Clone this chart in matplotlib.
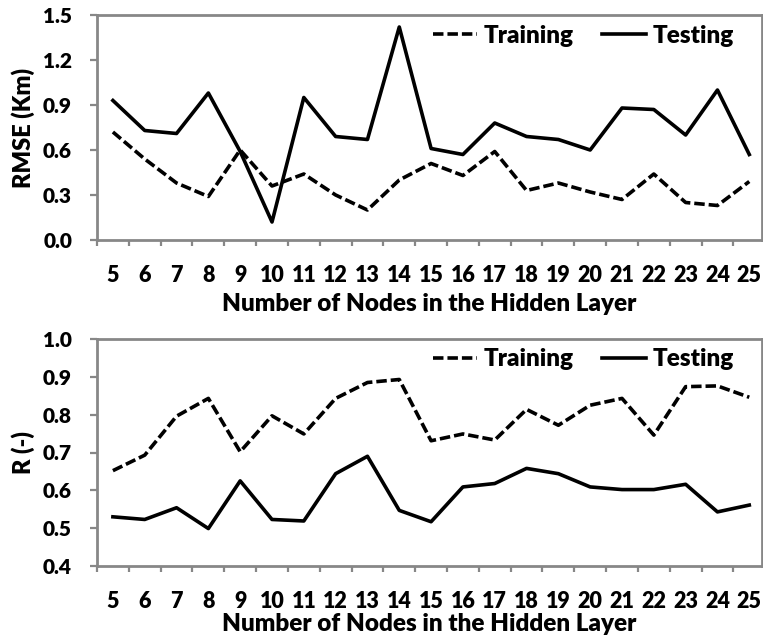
import matplotlib.pyplot as plt
from matplotlib.ticker import FixedLocator

# number of nodes in the hidden layer
nodes = [5, 6, 7, 8, 9, 10, 11, 12, 13, 14, 15, 16, 17, 18, 19, 20, 21, 22, 23, 24, 25]

# RMSE (Km)
rmse_train = [0.72, 0.54, 0.38, 0.29, 0.60, 0.36, 0.44, 0.30, 0.20, 0.40, 0.51,
              0.43, 0.59, 0.33, 0.38, 0.32, 0.27, 0.44, 0.25, 0.23, 0.39]
rmse_test = [0.93, 0.73, 0.71, 0.98, 0.59, 0.12, 0.95, 0.69, 0.67, 1.42, 0.61,
             0.57, 0.78, 0.69, 0.67, 0.60, 0.88, 0.87, 0.70, 1.00, 0.57]

# R (-)
r_train = [0.652, 0.693, 0.796, 0.843, 0.702, 0.797, 0.749, 0.843, 0.885, 0.893, 0.731,
           0.749, 0.733, 0.814, 0.772, 0.825, 0.843, 0.746, 0.874, 0.876, 0.846]
r_test = [0.530, 0.523, 0.554, 0.499, 0.625, 0.523, 0.519, 0.644, 0.690, 0.547, 0.517,
          0.609, 0.618, 0.658, 0.644, 0.609, 0.602, 0.602, 0.616, 0.543, 0.561]

rmse_ticks = [0.0, 0.3, 0.6, 0.9, 1.2, 1.5]
r_ticks = [0.4, 0.5, 0.6, 0.7, 0.8, 0.9, 1.0]

FONT = 'Lato'
WEIGHT = 'heavy'
GREY = '#878787'

plt.rcParams['font.family'] = FONT
plt.rcParams['font.weight'] = WEIGHT

fig = plt.figure(figsize=(7.63, 6.39), dpi=100)
ax1 = fig.add_axes([97 / 763, 1 - 240 / 639, 665 / 763, 225 / 639])
ax2 = fig.add_axes([97 / 763, 1 - 566 / 639, 665 / 763, 227 / 639])


def style_panel(ax, train, test, ticks, ylabel, fmt, xpad):
    x = list(range(len(nodes)))
    ax.plot(x, train, color='black', lw=2.6, linestyle=(0, (2.9, 1.1)),
            dash_capstyle='butt', label='Training')
    ax.plot(x, test, color='black', lw=2.6, label='Testing')

    ax.set_xlim(-0.5, len(nodes) - 0.6)
    ax.set_ylim(ticks[0], ticks[-1])
    ax.set_yticks(ticks)
    ax.set_yticklabels([fmt.format(t) for t in ticks], fontsize=15,
                       fontweight=WEIGHT)
    ax.set_xticks(x)
    ax.set_xticklabels([str(n) for n in nodes], fontsize=15.5, fontweight=WEIGHT)
    ax.xaxis.set_minor_locator(FixedLocator([i - 0.5 for i in range(len(nodes) + 1)]))

    ax.tick_params(axis='x', which='major', length=0, pad=18)
    ax.tick_params(axis='x', which='minor', length=4, width=1.6, color=GREY,
                   direction='out')
    ax.tick_params(axis='y', length=5, width=1.6, color=GREY, direction='out',
                   pad=13)
    for s in ax.spines.values():
        s.set_color(GREY)
        s.set_linewidth(2.0)

    ax.set_xlabel('Number of Nodes in the Hidden Layer', fontsize=17.5,
                  fontweight=WEIGHT, labelpad=xpad)
    ax.set_ylabel(ylabel, fontsize=17, fontweight=WEIGHT, labelpad=6)

    ax.legend(loc='upper right', bbox_to_anchor=(0.99, 1.055), ncol=2,
              frameon=False, handlelength=1.8,
              handletextpad=0.25, columnspacing=1.2,
              prop={'family': FONT, 'weight': WEIGHT, 'size': 17.5})


style_panel(ax1, rmse_train, rmse_test, rmse_ticks, 'RMSE (Km)', '{:.1f}', 5)
style_panel(ax2, r_train, r_test, r_ticks, 'R (-)', '{:.1f}', 1)

fig.savefig('out.png', dpi=100)
